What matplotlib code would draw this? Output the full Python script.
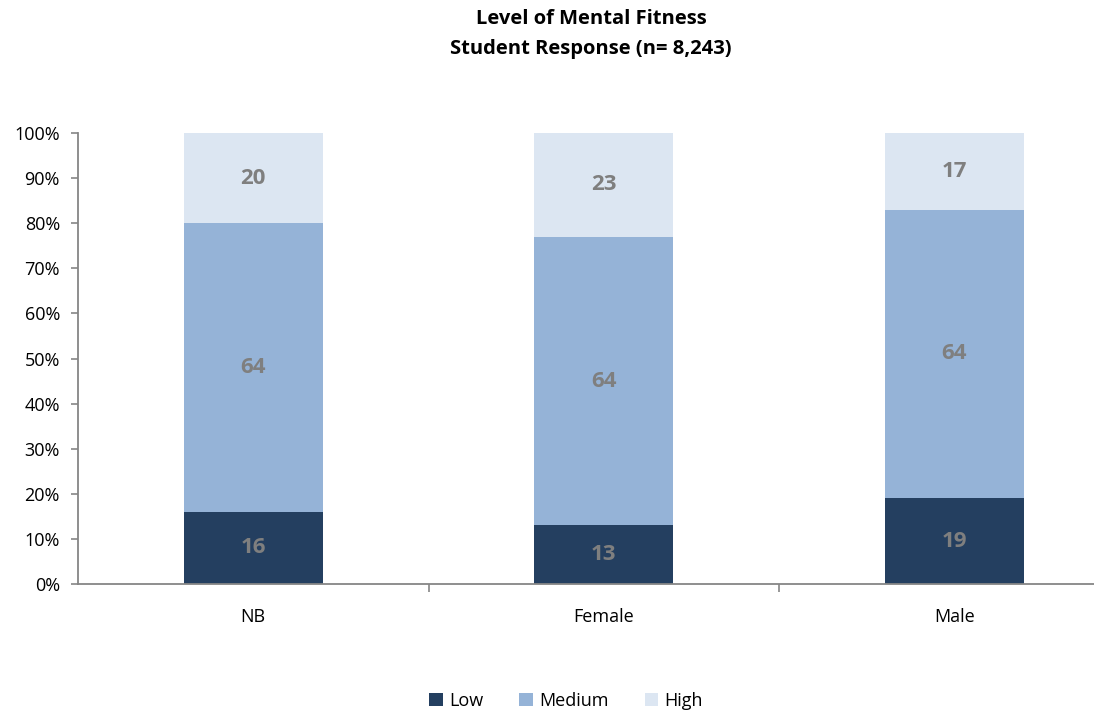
import matplotlib
matplotlib.use("Agg")
import matplotlib.pyplot as plt
from matplotlib.ticker import FixedLocator, NullFormatter
from matplotlib.patches import Patch

categories = ["NB", "Female", "Male"]
low = [16, 13, 19]
medium = [64, 64, 64]
high = [20, 23, 17]
series_names = ["Low", "Medium", "High"]
colors = ["#243F60", "#95B3D7", "#DCE6F2"]
yticks = [0, 10, 20, 30, 40, 50, 60, 70, 80, 90, 100]

plt.rcParams['font.family'] = ['Open Sans', 'DejaVu Sans']

fig = plt.figure(figsize=(10.94, 7.13), dpi=100)
ax = fig.add_axes([78/1094, 1-584/713, (1094-78)/1094, (584-133)/713])

x = list(range(len(categories)))
width = 0.397
bottoms = [0]*len(categories)
for vals, col in zip([low, medium, high], colors):
    ax.bar(x, vals, width, bottom=bottoms, color=col, edgecolor='none', zorder=2)
    for xi, v, b in zip(x, vals, bottoms):
        ax.text(xi, b + v/2, f"{v}", ha='center', va='center', fontsize=16,
                fontweight='bold', color='#7F7F7F', zorder=3)
    bottoms = [b + v for b, v in zip(bottoms, vals)]

ax.set_ylim(0, 100)
ax.set_xlim(-0.5, 2.5 - (1129.5-1094)/350.5)
ax.set_yticks(yticks)
ax.set_yticklabels([f"{t}%" for t in yticks], fontsize=13)
ax.set_xticks(x)
ax.set_xticklabels(categories, fontsize=13)
ax.tick_params(axis='x', which='major', length=0, pad=17)
ax.xaxis.set_minor_locator(FixedLocator([0.5, 1.5]))
ax.xaxis.set_minor_formatter(NullFormatter())
ax.tick_params(axis='x', which='minor', length=6, color='#868686', width=1.2)
ax.tick_params(axis='y', length=5, color='#868686', width=1.2, pad=8)

for s in ['top', 'right']:
    ax.spines[s].set_visible(False)
for s in ['left', 'bottom']:
    ax.spines[s].set_color('#868686')
    ax.spines[s].set_linewidth(1.3)

fig.text(591/1094, 1-19/713, "Level of Mental Fitness", ha='center', va='center',
         fontsize=14.5, fontweight='bold')
fig.text(591/1094, 1-49/713, "Student Response (n= 8,243)", ha='center', va='center',
         fontsize=14.5, fontweight='bold')

handles = [Patch(facecolor=c, edgecolor='none') for c in colors]
fig.legend(handles, series_names, loc='center', bbox_to_anchor=(566/1094, 1-701/713),
           ncol=3, frameon=False, fontsize=13, handlelength=0.75, handleheight=0.75,
           columnspacing=2.0, handletextpad=0.35)

fig.savefig("out.png", dpi=100)
